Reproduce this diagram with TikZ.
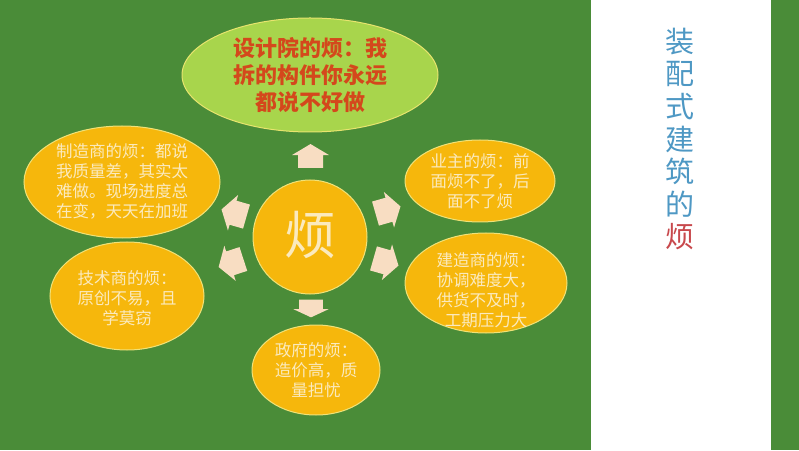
\documentclass[tikz,border=0pt]{standalone}
\usepackage{fontspec}
\usetikzlibrary{shapes.geometric}
\newfontfamily\cjk{Noto Sans CJK SC}
\definecolor{bggreen}{RGB}{74,140,56}
\definecolor{limefill}{RGB}{168,213,76}
\definecolor{limeedge}{RGB}{232,228,110}
\definecolor{orangefill}{RGB}{246,183,12}
\definecolor{orangeedge}{RGB}{240,226,120}
\definecolor{creamtext}{RGB}{251,234,190}
\definecolor{redtext}{RGB}{212,72,28}
\definecolor{arrowfill}{RGB}{248,221,194}
\definecolor{titleblue}{RGB}{78,152,196}
\definecolor{titlered}{RGB}{200,72,76}
\tikzset{
  bubble/.style={ellipse, draw=orangeedge, line width=1pt, fill=orangefill, inner sep=0pt},
  topbubble/.style={ellipse, draw=limeedge, line width=1pt, fill=limefill, inner sep=0pt},
  bubbletext/.style={text=creamtext, align=center, inner sep=0pt, font=\cjk\fontsize{16.5}{20}\selectfont},
  blockarrow/.pic={\fill[arrowfill] (-13,-12.5) -- (1,-12.5) -- (1,-18.5) -- (13,0) -- (1,18.5) -- (1,12.5) -- (-13,12.5) -- cycle;}
}
\begin{document}
\begin{tikzpicture}[x=1pt,y=1pt]
\useasboundingbox (0,0) rectangle (799,450);
\fill[bggreen] (0,0) rectangle (799,450);
\fill[white] (591,0) rectangle (771,450);
% title
\node[align=center, inner sep=0pt, font=\cjk\fontsize{29}{32.6}\selectfont, text=titleblue] (title) at (680,311)
  {装\\配\\式\\建\\筑\\的\\\textcolor{titlered}{烦}};
% top bubble
\node[topbubble, minimum width=256pt, minimum height=114pt] (design) at (310,375) {};
\node[align=center, inner sep=0pt, text=redtext, font=\cjk\bfseries\fontsize{22}{27}\selectfont] (designtxt) at (310,375)
  {设计院的烦：我\\拆的构件你永远\\都说不好做};
% center
\node[circle, draw=orangeedge, line width=1pt, fill=orangefill, minimum size=114pt, inner sep=0pt] (core) at (310,213) {};
\node[text=creamtext, inner sep=0pt, font=\cjk\fontsize{52}{56}\selectfont] (coretxt) at (310,215) {烦};
% left upper
\node[bubble, minimum width=196pt, minimum height=112pt] (maker) at (122,268) {};
\node[bubbletext] (makertxt) at (122,269) {制造商的烦：都说\\我质量差，其实太\\难做。现场进度总\\在变，天天在加班};
% left lower
\node[bubble, minimum width=154pt, minimum height=108pt] (tech) at (127,154) {};
\node[bubbletext] (techtxt) at (127,152) {技术商的烦：\\原创不易，且\\学莫窃};
% right upper
\node[bubble, minimum width=150pt, minimum height=82pt] (owner) at (480,269) {};
\node[bubbletext] (ownertxt) at (480,269) {业主的烦：前\\面烦不了，后\\面不了烦};
% right lower
\node[bubble, minimum width=162pt, minimum height=100pt] (builder) at (486,167) {};
\node[bubbletext] (buildertxt) at (486,160) {建造商的烦：\\协调难度大，\\供货不及时，\\工期压力大};
% bottom
\node[bubble, minimum width=128pt, minimum height=90pt] (gov) at (316,80) {};
\node[bubbletext] (govtxt) at (316,80) {政府的烦：\\造价高，质\\量担忧};
% block arrows
\pic[rotate=90, xscale=0.92] at (310.5,294) {blockarrow};
\pic[rotate=-90, xscale=0.68, yscale=0.95] at (311,141.5) {blockarrow};
\pic[rotate=164] at (234,237) {blockarrow};
\pic[rotate=198] at (231,187) {blockarrow};
\pic[rotate=16] at (388,240) {blockarrow};
\pic[rotate=-16] at (386,188) {blockarrow};
\end{tikzpicture}
\end{document}
